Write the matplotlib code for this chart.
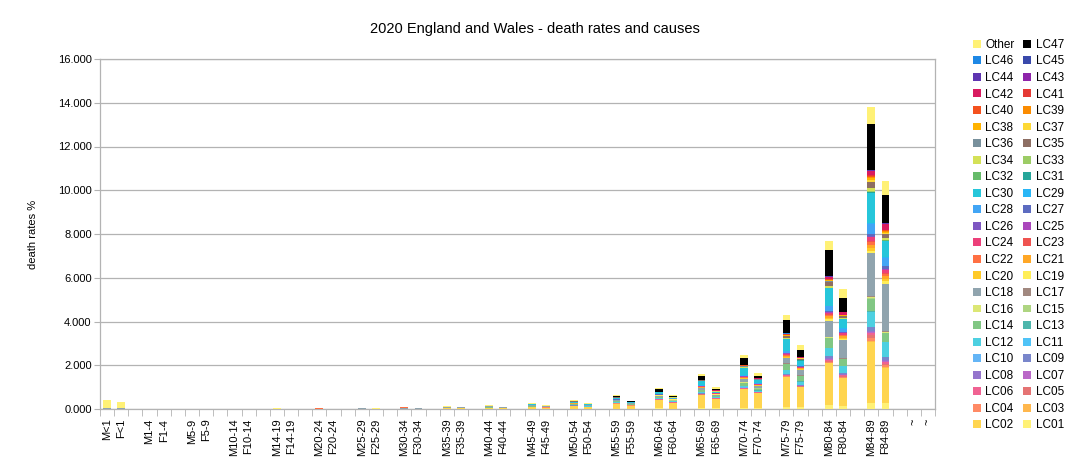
import numpy as np
import matplotlib
matplotlib.use("Agg")
import matplotlib.pyplot as plt
from matplotlib.patches import Patch

plt.rcParams['font.family'] = ['Liberation Sans', 'DejaVu Sans']

# age groups, each gets a male bar, a female bar and an empty slot
ages = ["<1", "1-4", "5-9", "10-14", "14-19", "20-24", "25-29", "30-34", "35-39",
        "40-44", "45-49", "50-54", "55-59", "60-64", "65-69", "70-74", "75-79",
        "80-84", "84-89"]
tail_labels = ["~", "~"]

# death rates % per cause, bars in order M<1, F<1, M1-4, F1-4, ... M84-89, F84-89
LC01 = [0, 0, 0, 0, 0, 0, 0, 0, 0, 0, 0, 0, 0, 0, 0, 0, .01, .01, .01, .01,
        .01, .01, .01, .01, .02, .01, .03, .02, .03, .03, .03, .03, .08, .08, .18, .14, .29, .26]
LC02 = [0, 0, 0, 0, 0, 0, 0, 0, 0, 0, 0, 0, 0, 0, .01, .01, .02, .02, .04, .03,
        .07, .05, .13, .09, .22, .14, .38, .25, .61, .43, .87, .69, 1.37, .91, 1.91, 1.26, 2.79, 1.60]
LC03 = [0, 0, 0, 0, 0, 0, 0, 0, 0, 0, 0, 0, 0, 0, 0, 0, 0, 0, 0, 0,
        0, 0, .01, 0, .01, .01, .01, .01, .01, .01, .01, .01, .02, .01, .03, .02, .05, .04]
LC04 = [0, 0, 0, 0, 0, 0, 0, 0, .01, .01, .01, .01, .01, .01, .01, .01, .01, .01, .01, .01,
        .01, .01, .01, .01, .01, .01, .01, .01, .01, .01, .01, .01, .03, .02, .05, .04, .12, .09]
LC05 = [0, 0, 0, 0, 0, 0, 0, 0, 0, 0, 0, 0, 0, 0, 0, 0, 0, 0, 0, 0,
        0, 0, 0, 0, 0, 0, 0, 0, .01, 0, .01, .01, .02, .02, .04, .04, .12, .08]
LC06 = [0, 0, 0, 0, 0, 0, 0, 0, 0, 0, 0, 0, 0, 0, 0, 0, 0, 0, 0, 0,
        0, 0, 0, 0, .01, 0, .01, .01, .01, .01, .01, .01, .02, .02, .04, .04, .12, .09]
LC07 = [0, 0, 0, 0, 0, 0, 0, 0, 0, 0, 0, 0, 0, 0, 0, 0, 0, 0, 0, 0,
        0, 0, 0, 0, 0, 0, 0, 0, .01, 0, .01, 0, .01, .01, .02, .01, .03, .03]
LC08 = [0, 0, 0, 0, 0, 0, 0, 0, 0, 0, 0, 0, 0, 0, 0, 0, 0, 0, 0, 0,
        0, 0, 0, 0, 0, 0, .01, 0, .01, .01, .01, .01, .02, .01, .04, .03, .06, .05]
LC09 = [0, 0, 0, 0, 0, 0, 0, 0, 0, 0, 0, 0, 0, 0, 0, 0, 0, 0, 0, 0,
        0, 0, .01, 0, .01, .01, .01, .01, .01, .01, .02, .01, .03, .02, .10, .05, .15, .12]
LC10 = [0, 0, 0, 0, 0, 0, 0, 0, 0, 0, 0, 0, 0, 0, 0, 0, 0, 0, 0, 0,
        0, 0, 0, 0, 0, 0, 0, 0, .01, 0, .01, 0, .01, .01, .01, .01, .02, .02]
LC11 = [0, 0, 0, 0, 0, 0, 0, 0, 0, 0, 0, 0, 0, 0, 0, 0, 0, 0, 0, 0,
        0, 0, 0, 0, .01, 0, .01, .01, .01, .01, .01, .01, .01, .01, .01, .01, .02, .02]
LC12 = [0, 0, 0, 0, 0, 0, 0, 0, 0, 0, 0, 0, 0, 0, 0, 0, 0, 0, 0, 0,
        .01, 0, .02, .01, .03, .02, .04, .03, .04, .03, .05, .05, .16, .13, .37, .32, .68, .65]
LC13 = [0, 0, 0, 0, 0, 0, 0, 0, 0, 0, 0, 0, 0, 0, 0, 0, 0, 0, 0, 0,
        0, 0, 0, 0, 0, 0, 0, 0, .01, 0, .01, .01, .01, .01, .01, .01, .02, .02]
LC14 = [0, 0, 0, 0, 0, 0, 0, 0, 0, 0, 0, 0, 0, 0, 0, 0, 0, 0, .01, 0,
        .02, .01, .02, .01, .03, .02, .04, .03, .07, .04, .14, .08, .26, .24, .44, .29, .58, .39]
LC15 = [0, 0, 0, 0, 0, 0, 0, 0, 0, 0, 0, 0, 0, 0, 0, 0, 0, 0, 0, 0,
        0, 0, 0, 0, 0, 0, .01, .01, .01, .01, .01, .01, .01, .01, .01, .01, .03, .02]
LC16 = [0, 0, 0, 0, 0, 0, 0, 0, 0, 0, 0, 0, 0, 0, 0, 0, 0, 0, .01, 0,
        .01, .01, .01, .01, .01, .01, .01, .01, .01, .01, .01, .01, .02, .02, .03, .02, .05, .05]
LC17 = [0, 0, 0, 0, 0, 0, 0, 0, 0, 0, 0, 0, 0, 0, 0, 0, 0, 0, 0, 0,
        0, 0, 0, 0, 0, 0, 0, 0, .01, 0, .01, .01, .01, .01, .01, .01, .02, .02]
LC18 = [.03, .03, 0, 0, 0, 0, 0, 0, 0, 0, .01, 0, .02, .01, .04, .02, .05, .03, .05, .03,
        .05, .05, .03, .04, .03, .03, .04, .03, .07, .05, .13, .10, .23, .24, .74, .84, 1.96, 2.18]
LC19 = [0, 0, 0, 0, 0, 0, 0, 0, 0, 0, 0, 0, 0, 0, 0, 0, 0, 0, 0, 0,
        0, 0, 0, 0, 0, 0, .01, .01, .01, .01, .02, .01, .03, .02, .06, .05, .12, .10]
LC20 = [0, 0, 0, 0, 0, 0, 0, 0, 0, 0, 0, 0, 0, 0, 0, 0, 0, 0, 0, 0,
        0, 0, 0, 0, .01, 0, .01, 0, .01, .01, .02, .01, .04, .03, .07, .05, .14, .10]
LC21 = [0, 0, 0, 0, 0, 0, 0, 0, 0, 0, 0, 0, 0, 0, 0, 0, 0, 0, 0, 0,
        .01, 0, .01, .01, .01, .01, .01, .01, .02, .01, .03, .02, .05, .03, .08, .07, .15, .13]
LC22 = [0, 0, 0, 0, 0, 0, 0, 0, .01, 0, .02, 0, .02, 0, .01, 0, 0, 0, 0, 0,
        0, 0, 0, 0, .01, 0, .01, .01, .01, .01, .02, .01, .04, .02, .06, .05, .10, .10]
LC23 = [0, 0, 0, 0, 0, 0, 0, 0, 0, 0, 0, 0, 0, 0, 0, 0, 0, 0, 0, 0,
        0, 0, 0, 0, 0, 0, 0, 0, .01, 0, .01, .01, .01, .01, .02, .02, .04, .04]
LC24 = [0, 0, 0, 0, 0, 0, 0, 0, 0, 0, 0, 0, 0, 0, 0, 0, 0, 0, .01, 0,
        .01, 0, .01, 0, .01, .01, .01, .01, .02, .01, .02, .02, .04, .03, .08, .08, .19, .16]
LC25 = [0, 0, 0, 0, 0, 0, 0, 0, 0, 0, 0, 0, 0, 0, 0, 0, 0, 0, 0, 0,
        0, 0, 0, 0, 0, 0, 0, 0, .01, 0, .01, .01, .01, .01, .01, .01, .02, .02]
LC26 = [0, 0, 0, 0, 0, 0, 0, 0, 0, 0, 0, 0, 0, 0, 0, 0, 0, 0, 0, 0,
        0, 0, 0, 0, 0, 0, 0, 0, 0, 0, .01, 0, .01, .01, .02, .02, .03, .03]
LC27 = [0, 0, 0, 0, 0, 0, 0, 0, 0, 0, 0, 0, 0, 0, 0, 0, 0, 0, 0, 0,
        0, 0, 0, 0, .01, 0, .01, .01, .01, .01, .01, .01, .03, .01, .05, .04, .12, .13]
LC28 = [0, 0, 0, 0, 0, 0, 0, 0, 0, 0, 0, 0, 0, 0, 0, 0, 0, 0, 0, 0,
        0, 0, .01, 0, .01, .01, .01, .01, .02, .01, .02, .02, .06, .03, .20, .13, .44, .37]
LC29 = [0, 0, 0, 0, 0, 0, 0, 0, 0, 0, 0, 0, 0, 0, 0, 0, 0, 0, 0, 0,
        0, 0, 0, 0, 0, 0, .01, 0, .01, .01, .01, .01, .01, .01, .03, .02, .05, .04]
LC30 = [0, 0, 0, 0, 0, 0, 0, 0, 0, 0, 0, 0, 0, 0, 0, 0, 0, 0, 0, 0,
        .01, 0, .04, .02, .06, .03, .08, .03, .20, .06, .32, .12, .54, .22, .80, .41, 1.37, .73]
LC31 = [0, 0, 0, 0, 0, 0, 0, 0, 0, 0, 0, 0, 0, 0, 0, 0, 0, 0, 0, 0,
        0, 0, 0, 0, 0, 0, 0, 0, 0, 0, 0, 0, .01, .01, .01, .01, .02, .02]
LC32 = [0, 0, 0, 0, 0, 0, 0, 0, 0, 0, 0, 0, 0, 0, 0, 0, 0, 0, 0, 0,
        0, 0, 0, 0, 0, 0, 0, 0, .01, 0, .01, .01, .01, .01, .01, .01, .02, .02]
LC33 = [0, 0, 0, 0, 0, 0, 0, 0, 0, 0, 0, 0, 0, 0, 0, 0, 0, 0, 0, 0,
        0, 0, 0, 0, 0, 0, 0, 0, 0, 0, .01, 0, .01, .01, .01, .01, .03, .02]
LC34 = [0, 0, 0, 0, 0, 0, 0, 0, 0, 0, 0, 0, 0, 0, 0, 0, 0, 0, 0, 0,
        0, 0, .01, 0, .01, 0, .01, .01, .01, .01, .02, .01, .03, .02, .07, .04, .14, .10]
LC35 = [0, 0, 0, 0, 0, 0, 0, 0, 0, 0, 0, 0, 0, 0, .01, 0, .02, 0, .02, .01,
        .02, .01, .02, .01, .01, .01, .01, .01, .02, .01, .04, .01, .07, .03, .20, .06, .27, .14]
LC36 = [0, 0, 0, 0, 0, 0, 0, 0, 0, 0, 0, 0, 0, 0, 0, 0, 0, 0, 0, 0,
        0, 0, 0, 0, 0, 0, 0, 0, 0, 0, .01, .01, .01, .01, .01, .01, .03, .02]
LC37 = [0, 0, 0, 0, 0, 0, 0, 0, 0, 0, 0, 0, 0, 0, 0, 0, 0, 0, 0, 0,
        0, 0, 0, 0, .01, 0, .01, .01, .01, .01, .01, .01, .02, .01, .03, .02, .07, .05]
LC38 = [0, 0, 0, 0, 0, 0, 0, 0, 0, 0, 0, 0, 0, 0, 0, 0, 0, 0, 0, 0,
        0, 0, 0, 0, 0, 0, 0, 0, 0, 0, .01, .01, .02, .01, .03, .02, .08, .05]
LC39 = [0, 0, 0, 0, 0, 0, 0, 0, 0, 0, 0, 0, 0, 0, 0, 0, 0, 0, 0, 0,
        0, 0, 0, 0, 0, 0, 0, 0, .01, .01, .01, .01, .02, .01, .03, .02, .08, .05]
LC40 = [0, 0, 0, 0, 0, 0, 0, 0, 0, 0, 0, 0, 0, 0, 0, 0, 0, 0, 0, 0,
        0, 0, 0, 0, 0, 0, 0, 0, 0, 0, .01, 0, .01, .01, .01, .01, .03, .02]
LC41 = [0, 0, 0, 0, 0, 0, 0, 0, 0, 0, 0, 0, 0, 0, 0, 0, 0, 0, 0, 0,
        0, 0, 0, 0, 0, 0, 0, 0, 0, 0, .01, .01, .01, .01, .02, .01, .04, .02]
LC42 = [.01, .005, 0, 0, 0, 0, 0, 0, 0, 0, 0, 0, 0, 0, 0, 0, 0, 0, 0, 0,
        0, 0, 0, 0, 0, 0, 0, 0, 0, .01, 0, .01, .02, .01, .08, .11, .19, .28]
LC43 = [0, 0, 0, 0, 0, 0, 0, 0, 0, 0, 0, 0, 0, 0, 0, 0, 0, 0, 0, 0,
        0, 0, 0, 0, 0, 0, 0, 0, 0, 0, 0, 0, .01, 0, .01, .01, .01, .01]
LC44 = [0, 0, 0, 0, 0, 0, 0, 0, 0, 0, 0, 0, 0, 0, 0, 0, 0, 0, 0, 0,
        0, 0, 0, 0, 0, 0, 0, 0, 0, 0, 0, 0, .01, 0, .02, .01, .02, .01]
LC45 = [0, 0, 0, 0, 0, 0, 0, 0, 0, 0, 0, 0, 0, 0, 0, 0, 0, 0, 0, 0,
        0, 0, 0, 0, 0, 0, 0, 0, 0, 0, 0, 0, 0, 0, .01, 0, .01, .01]
LC46 = [0, 0, 0, 0, 0, 0, 0, 0, 0, 0, 0, 0, 0, 0, 0, 0, 0, 0, 0, 0,
        0, 0, 0, 0, 0, 0, 0, 0, 0, 0, 0, 0, .01, 0, .01, 0, .02, .01]
LC47 = [0, 0, 0, 0, 0, 0, 0, 0, 0, 0, 0, 0, 0, 0, 0, 0, 0, 0, 0, 0,
        .01, 0, .03, .02, .06, .03, .11, .04, .17, .08, .34, .11, .61, .34, 1.19, .64, 2.10, 1.26]
OTHER = [.37, .30, .01, .01, 0, 0, 0, 0, .01, .01, .01, .01, .01, .01, .01, .01, .02, .01, .02, .01,
         .03, .02, .03, .02, .04, .02, .06, .03, .09, .06, .12, .12, .23, .23, .42, .38, .76, .65]

series = [LC01, LC02, LC03, LC04, LC05, LC06, LC07, LC08, LC09, LC10, LC11, LC12,
          LC13, LC14, LC15, LC16, LC17, LC18, LC19, LC20, LC21, LC22, LC23, LC24,
          LC25, LC26, LC27, LC28, LC29, LC30, LC31, LC32, LC33, LC34, LC35, LC36,
          LC37, LC38, LC39, LC40, LC41, LC42, LC43, LC44, LC45, LC46, LC47, OTHER]
names = ["LC%02d" % i for i in range(1, 48)] + ["Other"]

colors = ["#FFF176", "#FFD54F", "#FFB74D", "#FF8A65", "#E57373", "#F06292", "#BA68C8",
          "#9575CD", "#7986CB", "#64B5F6", "#4FC3F7", "#4DD0E1", "#4DB6AC", "#81C784",
          "#AED581", "#DCE775", "#A1887F", "#90A4AE", "#FFEE58", "#FFCA28", "#FFA726",
          "#FF7043", "#EF5350", "#EC407A", "#AB47BC", "#7E57C2", "#5C6BC0", "#42A5F5",
          "#29B6F6", "#26C6DA", "#26A69A", "#66BB6A", "#9CCC65", "#D4E157", "#8D6E63",
          "#78909C", "#FDD835", "#FFB300", "#FB8C00", "#F4511E", "#E53935", "#D81B60",
          "#8E24AA", "#5E35B1", "#3949AB", "#1E88E5", "#000000", "#FFF176"]

# category axis: M, F, gap for each age group, then two stray categories
x_labels = []
for a in ages:
    x_labels += ["M" + a, "F" + a, ""]
x_labels += tail_labels
bar_pos = [i for i, lab in enumerate(x_labels) if lab[:1] in ("M", "F")]

fig = plt.figure(figsize=(10.69, 4.68), dpi=100)
ax = fig.add_axes([100 / 1069, 1 - 409 / 468, 835 / 1069, 350 / 468])

grey = "#b3b3b3"
bottom = np.zeros(len(bar_pos))
for vals, c in zip(series, colors):
    vals = np.array(vals, dtype=float)
    ax.bar(bar_pos, vals, width=0.55, bottom=bottom, color=c, linewidth=0, zorder=3)
    bottom += vals

ax.set_xlim(-0.5, len(x_labels) - 0.5)
ax.set_ylim(0, 16)
ax.set_yticks(np.arange(0, 17, 2))
ax.set_yticklabels(["%.3f" % v for v in np.arange(0, 17, 2)], fontsize=8)
ax.yaxis.grid(True, color=grey, linewidth=0.9, zorder=0)
ax.tick_params(axis='y', length=4, color=grey, pad=2)

ax.set_xticks(range(len(x_labels)))
ax.set_xticklabels(x_labels, rotation=90, fontsize=8, va='top')
ax.set_xticks(np.arange(-0.5, len(x_labels), 1), minor=True)
ax.tick_params(axis='x', which='major', length=0, pad=7)
ax.tick_params(axis='x', which='minor', length=5, color=grey)

for s in ax.spines.values():
    s.set_color(grey)
    s.set_linewidth(0.9)

ax.set_ylabel("death rates %", fontsize=8, labelpad=14)
fig.suptitle("2020 England and Wales - death rates and causes", fontsize=10.5, y=0.952)

# legend laid out row by row: Other LC47 / LC46 LC45 / ... / LC02 LC01
rev = list(range(len(names)))[::-1]
order = rev[0::2] + rev[1::2]
handles = [Patch(facecolor=colors[i], edgecolor='none') for i in order]
labels = [names[i] for i in order]
fig.legend(handles, labels, ncol=2, loc='upper left', bbox_to_anchor=(967 / 1069, 1 - 33 / 468),
           frameon=False, fontsize=8.5, handlelength=0.65, handleheight=0.65,
           handletextpad=0.4, columnspacing=0.75, labelspacing=0.385, borderpad=0)

fig.savefig("out.png", dpi=100)
